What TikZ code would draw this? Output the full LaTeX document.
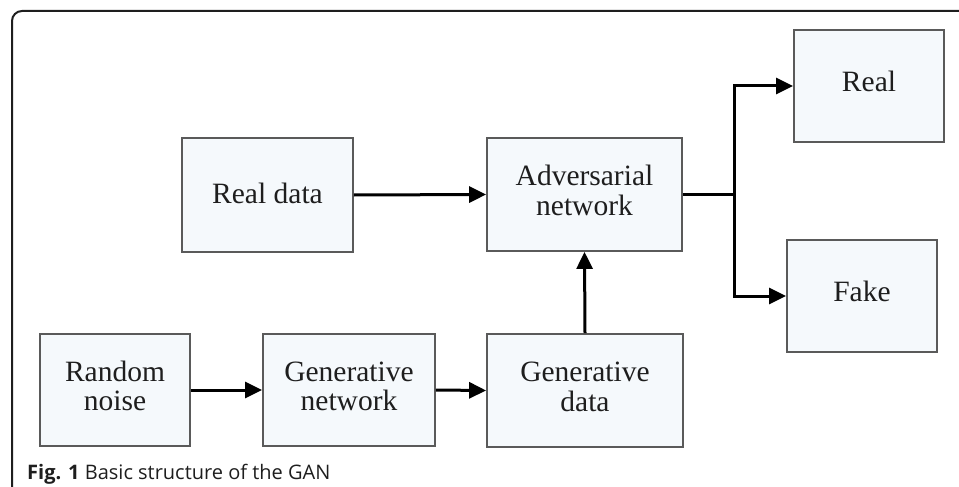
\documentclass[tikz,border=0pt]{standalone}
\usepackage{fontspec}
\setmainfont{Liberation Serif}
\newfontfamily\capfont{Open Sans}
\usetikzlibrary{arrows.meta}
\definecolor{boxfill}{HTML}{F5F9FC}
\definecolor{boxline}{HTML}{5A5A5A}
\definecolor{ink}{HTML}{1E1E1E}
% two centred lines, lifted by #1
\newcommand{\twolines}[3]{\raisebox{#1}{\begin{tabular}{@{}c@{}}#2\\#3\end{tabular}}}
\begin{document}
\begin{tikzpicture}[x=1pt,y=-1pt,
  block/.style={draw=boxline,line width=1.8pt,fill=boxfill,rectangle,
    align=center,text=ink,inner sep=0pt,
    font=\fontsize{29.5}{29.5}\selectfont},
  flow/.style={line width=3pt,draw=black,
    -{Triangle[length=17pt,width=16pt]}}]
\useasboundingbox (0,0) rectangle (959,487);
% outer frame with rounded top-left corner
\draw[line width=2pt,ink,rounded corners=10pt] (12,500) -- (12,11) -- (975,11);
% blocks
\node[block,minimum width=171pt,minimum height=114pt] (realdata) at (267.5,195) {\raisebox{4pt}{Real data}};
\node[block,minimum width=195pt,minimum height=113pt] (adv) at (584.5,194.5) {\twolines{3pt}{Adversarial}{network}};
\node[block,minimum width=150pt,minimum height=112pt] (real) at (869,86) {\raisebox{9pt}{Real}};
\node[block,minimum width=150pt,minimum height=112pt] (fake) at (862,296) {\raisebox{9pt}{Fake}};
\node[block,minimum width=150pt,minimum height=112pt] (noise) at (115,390) {\twolines{0pt}{Random}{noise}};
\node[block,minimum width=172pt,minimum height=112pt] (gennet) at (349,390) {\twolines{0pt}{Generative}{network}};
\node[block,minimum width=196pt,minimum height=113pt] (gendata) at (585,390.5) {\twolines{6pt}{Generative}{data}};
% connectors
\draw[flow] (realdata.east) -- (adv.west);
\draw[flow] (noise.east) -- (gennet.west);
\draw[flow] (gennet.east) -- (gendata.west);
\draw[flow] (gendata.north) -- (adv.south);
\coordinate (split) at ([xshift=52pt]adv.east);
\draw[line width=3pt] (adv.east) -- (split);
\draw[flow] (split) |- (real.west);
\draw[flow] (split) |- (fake.west);
% caption
\node[anchor=base west,inner sep=0pt,text=ink,font=\capfont\fontsize{20}{20}\selectfont] (cap) at (27,479)
  {\textbf{Fig. 1} Basic structure of the GAN};
\end{tikzpicture}
\end{document}
